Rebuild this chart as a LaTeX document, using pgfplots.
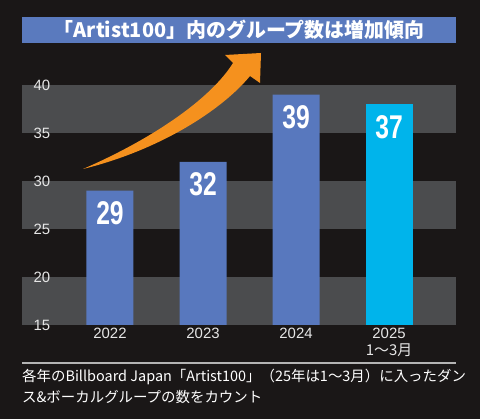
\documentclass[border=0pt]{standalone}
\usepackage{pgfplots}
\pgfplotsset{compat=1.18}
\usepackage{fontspec}
\setmainfont{Liberation Sans}
\newfontfamily\cjk{Noto Sans CJK JP}
\definecolor{bgdark}{HTML}{1A1717}
\definecolor{titleblue}{HTML}{5A7ABE}
\definecolor{band}{HTML}{4B4C4E}
\definecolor{barblue}{HTML}{5878BE}
\definecolor{barcyan}{HTML}{00B4EB}
\definecolor{arroworange}{HTML}{F5911E}
\definecolor{sepgray}{HTML}{B4B4B4}
\definecolor{ticktext}{HTML}{E6E6E6}

\pgfplotstableread{
x y lab
0 29 29
1 32 32
2 39 39
}\mainbars
\pgfplotstableread{
x y lab
3 38 37
}\lastbar

\begin{document}
\begin{tikzpicture}
\fill[bgdark] (0,0) rectangle (480bp,419bp);
\begin{scope}[shift={(0bp,419bp)},x=1bp,y=-1bp]
  % title bar
  \fill[titleblue] (22,17) rectangle (456,43);
  \node[text=white,inner sep=0,font={\cjk\bfseries\fontsize{20}{20}\selectfont}] at (239,30)
    {「Artist100」内のグループ数は増加傾向};
  % bands behind the bars
  \fill[band] (22,85) rectangle (456,133);
  \fill[band] (22,181) rectangle (456,229);
  \fill[band] (22,277) rectangle (456,325);
  % rising arrow
  \fill[arroworange] (83,169) .. controls (150,140) and (210,100) .. (233,63)
    -- (225,55) -- (261,53) -- (260,83) -- (250,76)
    .. controls (222,110) and (160,150) .. (83,169) -- cycle;
  % note under the chart
  \draw[sepgray,line width=1.2pt] (22,363) -- (456,363);
  \node[anchor=west,text=white,inner sep=0,font={\cjk\fontsize{14.5}{14.5}\selectfont}] at (22,377)
    {各年のBillboard Japan「Artist100」（25年は1～3月）に入ったダン};
  \node[anchor=west,text=white,inner sep=0,font={\cjk\fontsize{14.5}{14.5}\selectfont}] at (22,397)
    {ス\&ボーカルグループの数をカウント};
\end{scope}

\begin{axis}[
    at={(22bp,94bp)}, anchor=south west,
    scale only axis,
    width=434bp, height=240bp,
    xmin=-0.946, xmax=3.72,
    ymin=15, ymax=40,
    axis line style={draw=none},
    tick style={draw=none},
    ytick={15,20,...,40},
    xtick={0,1,2,3},
    xticklabels={2022,2023,2024,{2025\\{\cjk 1～3月}}},
    /pgf/number format/assume math mode=true,
    tick label style={text=ticktext,font=\fontsize{15}{17}\selectfont},
    x tick label style={align=center},
    yticklabel style={anchor=west,xshift=8bp},
    clip=false,
  ]
  \addplot[ybar,bar width=47bp,bar shift=0pt,fill=barblue,draw=none,
    point meta=explicit symbolic,
    nodes near coords={\scalebox{0.75}[1]{\pgfplotspointmeta}},
    nodes near coords style={anchor=north,yshift=-7.5bp,text=white,
      font=\bfseries\fontsize{33}{33}\selectfont}]
    table[x=x,y=y,meta=lab] {\mainbars};
  \addplot[ybar,bar width=47bp,bar shift=0pt,fill=barcyan,draw=none,
    point meta=explicit symbolic,
    nodes near coords={\scalebox{0.75}[1]{\pgfplotspointmeta}},
    nodes near coords style={anchor=north,yshift=-7.5bp,text=white,
      font=\bfseries\fontsize{33}{33}\selectfont}]
    table[x=x,y=y,meta=lab] {\lastbar};
\end{axis}
\end{tikzpicture}
\end{document}
